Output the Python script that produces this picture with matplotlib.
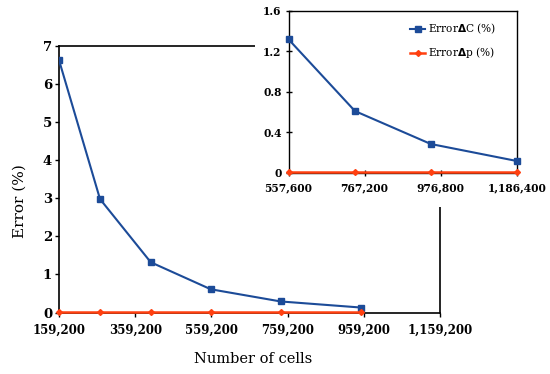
import matplotlib
matplotlib.use("Agg")
import matplotlib.pyplot as plt
from matplotlib.patches import Rectangle
from matplotlib.ticker import FuncFormatter

# Main chart data
cells_main = [159200, 266800, 400000, 557600, 741000, 952000]
err_c_main = [6.63, 2.98, 1.32, 0.61, 0.29, 0.13]
err_p_main = [0.01, 0.01, 0.01, 0.01, 0.01, 0.01]
main_xticks = [159200, 359200, 559200, 759200, 959200, 1159200]
main_yticks = [0, 1, 2, 3, 4, 5, 6, 7]

# Inset data
cells_inset = [557600, 740700, 949700, 1186400]
err_c_inset = [1.32, 0.61, 0.284, 0.116]
err_p_inset = [0.005, 0.005, 0.005, 0.005]
inset_xticks = [557600, 767200, 976800, 1186400]
inset_yticks = [0, 0.4, 0.8, 1.2, 1.6]

blue = "#1C4B98"
red = "#FF4010"
serif = ["DejaVu Serif"]

fig = plt.figure(figsize=(5.5, 3.74), dpi=100)
ax = fig.add_axes([59/550, 1-312.5/374, (440-59)/550, (312.5-46)/374])

ax.plot(cells_main, err_c_main, color=blue, lw=1.5, marker="s", ms=5, zorder=3)
ax.plot(cells_main, err_p_main, color=red, lw=1.8, marker="D", ms=3, zorder=4, clip_on=False)
ax.set_xlim(159200, 1159200)
ax.set_ylim(0, 7)
ax.set_xticks(main_xticks)
ax.set_yticks(main_yticks)
ax.xaxis.set_major_formatter(FuncFormatter(lambda v, p: f"{int(v):,}"))
ax.yaxis.set_major_formatter(FuncFormatter(lambda v, p: f"{int(v)}"))
ax.tick_params(axis="x", direction="out", length=3, width=1, pad=5)
ax.tick_params(axis="y", direction="out", length=3, width=1, pad=2)
for lab in ax.get_xticklabels() + ax.get_yticklabels():
    lab.set_fontfamily(serif)
    lab.set_fontweight("bold")
    lab.set_fontsize(8.5)
for lab in ax.get_yticklabels():
    lab.set_fontsize(9.5)
for s in ax.spines.values():
    s.set_linewidth(1.2)
    s.set_color("black")
ax.set_xlabel("Number of cells", fontfamily=serif, fontsize=10.5)
ax.xaxis.set_label_coords(0.509, -0.148)
ax.set_ylabel("Error (%)", fontfamily=serif, fontsize=11)
ax.yaxis.set_label_coords(-0.084, 0.418)

# white cover for inset region
fig.patches.append(Rectangle((255/550, 1-207/374), 1-255/550, 207/374,
                             transform=fig.transFigure, facecolor="white",
                             edgecolor="none", zorder=5))

ins = fig.add_axes([288.5/550, 1-172.7/374, (516.7-288.5)/550, (172.7-11)/374])
ins.set_zorder(10)
ins.plot(cells_inset, err_c_inset, color=blue, lw=1.5, marker="s", ms=5,
         label="Error$\\mathbf{\\Delta}$C (%)", clip_on=False, zorder=3)
ins.plot(cells_inset, err_p_inset, color=red, lw=1.8, marker="D", ms=3,
         label="Error$\\mathbf{\\Delta}$p (%)", clip_on=False, zorder=4)
ins.set_xlim(557600, 1186400)
ins.set_ylim(0, 1.6)
ins.set_xticks(inset_xticks)
ins.set_yticks(inset_yticks)
ins.xaxis.set_major_formatter(FuncFormatter(lambda v, p: f"{int(v):,}"))
ins.yaxis.set_major_formatter(FuncFormatter(lambda v, p: "0" if v == 0 else f"{v:.1f}"))
ins.tick_params(axis="both", direction="inout", length=4, width=1, pad=3)
ins.tick_params(axis="x", pad=5)
for lab in ins.get_xticklabels() + ins.get_yticklabels():
    lab.set_fontfamily(serif)
    lab.set_fontweight("bold")
    lab.set_fontsize(7.7)
for s in ins.spines.values():
    s.set_linewidth(1.0)
    s.set_color("black")
leg = ins.legend(loc="center left", bbox_to_anchor=((410-288.5)/228.2, (172.7-41)/161.7),
                 frameon=False, prop={"family": serif, "size": 7.6},
                 handlelength=1.45, handletextpad=0.25, borderaxespad=0, borderpad=0,
                 labelspacing=0.9)

fig.savefig("out.png", dpi=100)
